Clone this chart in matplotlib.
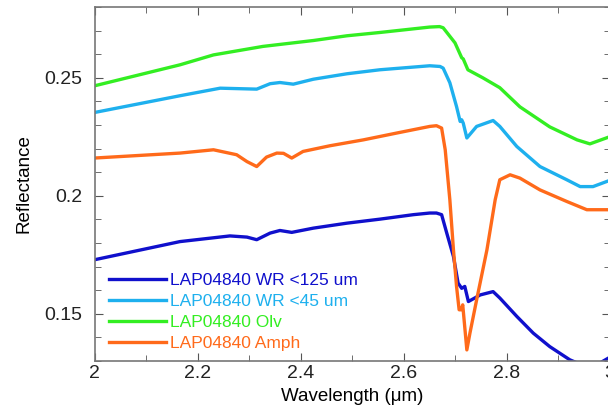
import numpy as np
import matplotlib.pyplot as plt
from matplotlib.ticker import MultipleLocator

plt.rcParams['font.family'] = ['Liberation Sans', 'DejaVu Sans']

# wavelength (um) / reflectance
wr125_x = [2.0, 2.166, 2.263, 2.296, 2.315, 2.341, 2.36, 2.383, 2.425, 2.49, 2.554, 2.619, 2.651,
           2.664, 2.674, 2.684, 2.697, 2.706, 2.713, 2.719, 2.726, 2.749, 2.774, 2.787, 2.82,
           2.852, 2.884, 2.923, 2.95, 2.98, 3.0]
wr125_y = [0.1729, 0.1806, 0.1830, 0.1825, 0.1814, 0.1842, 0.1853, 0.1845, 0.1863, 0.1884, 0.1901,
           0.1920, 0.1927, 0.1927, 0.1920, 0.1842, 0.1743, 0.1630, 0.1608, 0.1616, 0.1552, 0.1580,
           0.1594, 0.1567, 0.1489, 0.1418, 0.1361, 0.1305, 0.1280, 0.1290, 0.1315]

wr45_x = [2.0, 2.166, 2.244, 2.315, 2.341, 2.36, 2.386, 2.425, 2.49, 2.554, 2.651, 2.671, 2.677,
          2.69, 2.703, 2.71, 2.713, 2.716, 2.723, 2.742, 2.774, 2.787, 2.82, 2.865, 2.917,
          2.943, 2.968, 3.0]
wr45_y = [0.2353, 0.2424, 0.2456, 0.2452, 0.2475, 0.2480, 0.2473, 0.2494, 0.2517, 0.2534, 0.2551,
          0.2548, 0.2541, 0.2479, 0.2378, 0.2315, 0.2322, 0.2308, 0.2245, 0.2294, 0.2319, 0.2294,
          0.2209, 0.2124, 0.2068, 0.2039, 0.2039, 0.2065]

olv_x = [2.0, 2.166, 2.231, 2.327, 2.425, 2.49, 2.554, 2.651, 2.67, 2.677, 2.7, 2.713, 2.716,
         2.725, 2.754, 2.787, 2.826, 2.884, 2.937, 2.962, 3.0]
olv_y = [0.2466, 0.2555, 0.2597, 0.2633, 0.2658, 0.2678, 0.2692, 0.2715, 0.2717, 0.2712, 0.2648,
         0.2585, 0.2580, 0.2534, 0.2500, 0.2458, 0.2377, 0.2292, 0.2237, 0.2220, 0.2250]

amph_x = [2.0, 2.166, 2.231, 2.276, 2.296, 2.315, 2.334, 2.354, 2.367, 2.383, 2.405, 2.457, 2.522,
          2.587, 2.651, 2.664, 2.674, 2.681, 2.69, 2.697, 2.703, 2.708, 2.712, 2.715, 2.723,
          2.729, 2.742, 2.762, 2.778, 2.787, 2.807, 2.826, 2.865, 2.917, 2.956, 3.0]
amph_y = [0.2160, 0.2181, 0.2195, 0.2174, 0.2145, 0.2124, 0.2164, 0.2181, 0.2180, 0.2160, 0.2188,
          0.2212, 0.2237, 0.2266, 0.2294, 0.2297, 0.2287, 0.2195, 0.1983, 0.1771, 0.1616, 0.1517,
          0.1517, 0.1538, 0.1347, 0.1418, 0.1559, 0.1771, 0.1983, 0.2068, 0.2089, 0.2075, 0.2025,
          0.1976, 0.1941, 0.1941]

labels = ['LAP04840 WR <125 um', 'LAP04840 WR <45 um', 'LAP04840 Olv', 'LAP04840 Amph']
colors = ['#1010cc', '#1eb0ee', '#33ee22', '#ff6a1a']

fig = plt.figure(figsize=(6.08, 4.16), dpi=100)
ax = fig.add_axes([94.5 / 608, 55 / 416, 515 / 608, 354 / 416])

series = [(wr125_x, wr125_y), (wr45_x, wr45_y), (olv_x, olv_y), (amph_x, amph_y)]
for (x, y), lab, c in zip(series, labels, colors):
    ax.plot(x, y, color=c, lw=2.4, label=lab)

ax.set_xlim(2, 3)
ax.set_ylim(0.13, 0.28)
ax.xaxis.set_major_locator(MultipleLocator(0.2))
ax.xaxis.set_minor_locator(MultipleLocator(0.1))
ax.yaxis.set_major_locator(MultipleLocator(0.05))
ax.yaxis.set_minor_locator(MultipleLocator(0.01))
ax.set_xticks([2, 2.2, 2.4, 2.6, 2.8, 3])
ax.set_xticklabels(['2', '2.2', '2.4', '2.6', '2.8', '3'])
ax.set_yticks([0.15, 0.2, 0.25])
ax.set_yticklabels(['0.15', '0.2', '0.25'])
ax.tick_params(which='both', direction='in', top=True, right=True, color='#555555',
               labelsize=14, labelcolor='#222222')
ax.tick_params(axis='x', pad=3)
ax.tick_params(axis='y', pad=9)
ax.tick_params(which='major', length=6)
ax.tick_params(which='minor', length=4)
for s in ax.spines.values():
    s.set_color('#777777')
    s.set_linewidth(1.2)

ax.set_xlabel('Wavelength (\u03bcm)', fontsize=13.5, labelpad=4)
ax.set_ylabel('Reflectance', fontsize=13.5, labelpad=8)

leg = ax.legend(loc='lower left', frameon=False, fontsize=12.5, handlelength=3.3,
                handletextpad=0.2, labelspacing=0.32, borderaxespad=0.2,
                bbox_to_anchor=(0.008, 0.0))
for t, c in zip(leg.get_texts(), colors):
    t.set_color(c)

fig.savefig('out.png', dpi=100)
